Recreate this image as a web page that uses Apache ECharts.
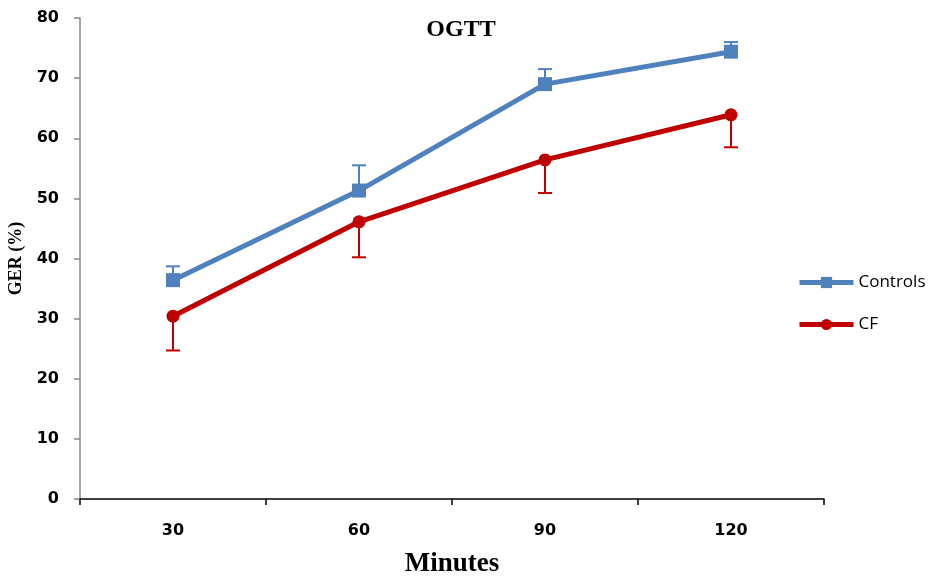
<!DOCTYPE html>
<html>
<head>
<meta charset="utf-8">
<script src="https://cdn.jsdelivr.net/npm/echarts@6/dist/echarts.min.js"></script>
<style>
  html, body { margin: 0; padding: 0; background: #fff; }
  #chart { width: 931px; height: 579px; }
</style>
</head>
<body>
<div id="chart"></div>
<script>
// Gastric emptying rate during OGTT
const minutes = ['30', '60', '90', '120'];
const controls = [36.4, 51.3, 69.0, 74.4];
const controlsErr = [2.3, 4.2, 2.5, 1.6];   // upper error bars
const cf = [30.4, 46.1, 56.4, 63.9];
const cfErr = [5.7, 5.9, 5.5, 5.4];         // lower error bars
const yTicks = { min: 0, max: 80, interval: 10 };

const BLUE = '#4F81BD';
const RED = '#C00000';

function errorBarSeries(name, values, errs, dir, color) {
  return {
    type: 'custom',
    name: name + ' error',
    z: 1,
    data: values.map((v, i) => [i, v, v + dir * errs[i]]),
    renderItem: function (params, api) {
      const p0 = api.coord([api.value(0), api.value(1)]);
      const p1 = api.coord([api.value(0), api.value(2)]);
      const half = 7;
      return {
        type: 'group',
        children: [
          { type: 'line', shape: { x1: p0[0], y1: p0[1], x2: p1[0], y2: p1[1] },
            style: { stroke: color, lineWidth: 2 } },
          { type: 'line', shape: { x1: p1[0] - half, y1: p1[1], x2: p1[0] + half, y2: p1[1] },
            style: { stroke: color, lineWidth: 2 } }
        ]
      };
    }
  };
}

const chart = echarts.init(document.getElementById('chart'));
chart.setOption({
  animation: false,
  backgroundColor: '#fff',
  title: {
    text: 'OGTT',
    left: 456, top: 13, textAlign: 'center',
    textStyle: { fontFamily: 'Liberation Serif', fontWeight: 'bold', fontSize: 24, color: '#000' }
  },
  grid: { left: 80, right: 107, top: 18, bottom: 80, outerBoundsMode: 'none', containLabel: false },
  legend: {
    orient: 'vertical',
    left: 797, top: 274,
    padding: 0,
    itemGap: 25,
    itemWidth: 54, itemHeight: 14,
    data: ['Controls', 'CF'],
    lineStyle: { width: 5 },
    textStyle: { fontFamily: 'Open Sans', fontSize: 17, color: '#000' }
  },
  xAxis: {
    type: 'category',
    data: minutes,
    boundaryGap: true,
    name: 'Minutes',
    nameLocation: 'middle',
    nameGap: 52,
    nameTextStyle: { fontFamily: 'Liberation Serif', fontWeight: 'bold', fontSize: 27, color: '#000' },
    axisLine: { lineStyle: { color: '#000', width: 1.5 } },
    axisTick: { show: true, interval: 0, alignWithLabel: false, length: 6, lineStyle: { color: '#000', width: 1.5 } },
    axisLabel: { margin: 24, fontFamily: 'DejaVu Sans', fontWeight: 'bold', fontSize: 16, color: '#000' }
  },
  yAxis: {
    type: 'value',
    min: yTicks.min, max: yTicks.max, interval: yTicks.interval,
    name: 'GER (%)',
    nameLocation: 'middle',
    nameGap: 50,
    nameRotate: 90,
    nameTextStyle: { fontFamily: 'Liberation Serif', fontWeight: 'bold', fontSize: 18, color: '#000' },
    axisLine: { show: true, lineStyle: { color: '#868686', width: 1.5 } },
    axisTick: { show: true, length: 6, lineStyle: { color: '#868686', width: 1.5 } },
    splitLine: { show: false },
    axisLabel: { margin: 21, fontFamily: 'DejaVu Sans', fontWeight: 'bold', fontSize: 16, color: '#000' }
  },
  series: [
    errorBarSeries('Controls', controls, controlsErr, 1, BLUE),
    errorBarSeries('CF', cf, cfErr, -1, RED),
    {
      name: 'Controls', type: 'line', data: controls, z: 3,
      symbol: 'rect', symbolSize: 14,
      lineStyle: { color: BLUE, width: 5 },
      itemStyle: { color: BLUE }
    },
    {
      name: 'CF', type: 'line', data: cf, z: 3,
      symbol: 'circle', symbolSize: 13,
      lineStyle: { color: RED, width: 5 },
      itemStyle: { color: RED }
    }
  ]
});
</script>
</body>
</html>
